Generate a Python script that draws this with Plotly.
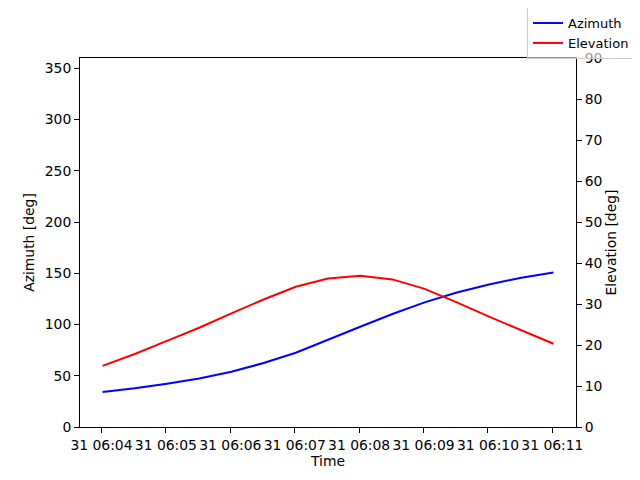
import pandas as pd
import plotly.graph_objects as go

# sample times, every 30 s
times = pd.date_range("2024-03-31 06:04:01", periods=15, freq="30s")

azimuth = [34.1, 37.7, 42.2, 47.4, 53.9, 62.4, 72.5, 84.8, 97.8, 110.2,
           121.6, 131.3, 139.1, 145.6, 150.8]
elevation = [14.9, 17.8, 21.0, 24.2, 27.7, 31.1, 34.2, 36.2, 36.9, 36.0,
             33.7, 30.4, 26.9, 23.5, 20.3]

font = dict(family="DejaVu Sans", size=13.9, color="black")

fig = go.Figure()
fig.add_trace(go.Scatter(x=times, y=azimuth, name="Azimuth", mode="lines",
                         line=dict(color="blue", width=2)))
fig.add_trace(go.Scatter(x=times, y=elevation, name="Elevation", mode="lines",
                         line=dict(color="red", width=2), yaxis="y2"))

axis_style = dict(showline=True, linecolor="black", linewidth=1, ticks="outside",
                  ticklen=5, tickcolor="black", showgrid=False, zeroline=False,
                  tickfont=font)

# page body adds 8px offset, so margins are shifted to compensate
fig.update_layout(
    width=640, height=480,
    margin=dict(l=72, r=72, t=50, b=61, autoexpand=False),
    paper_bgcolor="white", plot_bgcolor="white",
    font=font,
    xaxis=dict(axis_style, title=dict(text="Time", font=font, standoff=4),
               type="date", tickformat="%d %H:%M", dtick=60000, tickangle=0,
               tick0="2024-03-31 06:04:00",
               range=["2024-03-31 06:03:40", "2024-03-31 06:11:22"],
               mirror=True),
    yaxis=dict(axis_style, title=dict(text="Azimuth [deg]", font=font, standoff=6),
               range=[0, 360], dtick=50),
    yaxis2=dict(axis_style, title=dict(text="Elevation [deg]", font=font, standoff=4),
                range=[0, 90], dtick=10, overlaying="y", side="right"),
    legend=dict(x=1.119, y=1.138, xanchor="right", yanchor="top",
                bgcolor="rgba(255,255,255,0.6)",
                bordercolor="#cccccc", borderwidth=1, itemwidth=30, tracegroupgap=0,
                font=dict(family="DejaVu Sans", size=13, color="black")),
)

fig.write_html("out.html")
